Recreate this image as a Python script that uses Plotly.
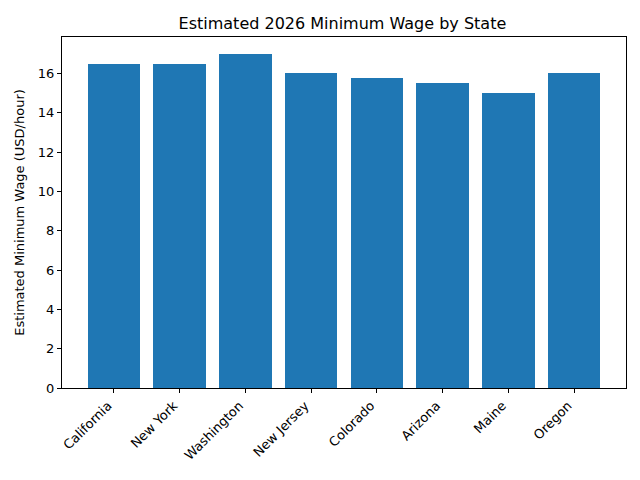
import plotly.graph_objects as go

# Estimated 2026 minimum wage per state (USD/hour)
states = ["California", "New York", "Washington", "New Jersey",
          "Colorado", "Arizona", "Maine", "Oregon"]
wages = [16.5, 16.5, 17.0, 16.0, 15.75, 15.5, 15.0, 16.0]
y_ticks = [0, 2, 4, 6, 8, 10, 12, 14, 16]

fig = go.Figure()
fig.add_trace(go.Bar(x=states, y=wages, marker=dict(color="#1f77b4", line=dict(width=0)),
                     width=0.8))

axis_style = dict(showline=True, linecolor="black", linewidth=1, mirror=True,
                  ticks="outside", ticklen=4, tickcolor="black", showgrid=False,
                  zeroline=False, tickfont=dict(size=13, color="black"))

fig.update_layout(
    width=640, height=480,
    margin=dict(l=62, r=14, t=37, b=92),
    paper_bgcolor="white", plot_bgcolor="white",
    font=dict(family="DejaVu Sans", color="black"),
    title=dict(text="Estimated 2026 Minimum Wage by State", x=0.535, xanchor="center",
               y=0.952, yanchor="middle", font=dict(size=16)),
    xaxis=dict(axis_style, tickangle=-45, range=[-0.79, 7.79], ticklabelshift=-6),
    yaxis=dict(axis_style, range=[0, 17.85], tickvals=y_ticks,
               title=dict(text="Estimated Minimum Wage (USD/hour)", font=dict(size=13), standoff=10)),
    showlegend=False,
    bargap=0,
)

# browser default body margin shifts the figure, drop it
fig.write_html("out.html", config={"displayModeBar": False},
               post_script="document.body.style.margin='0';")
